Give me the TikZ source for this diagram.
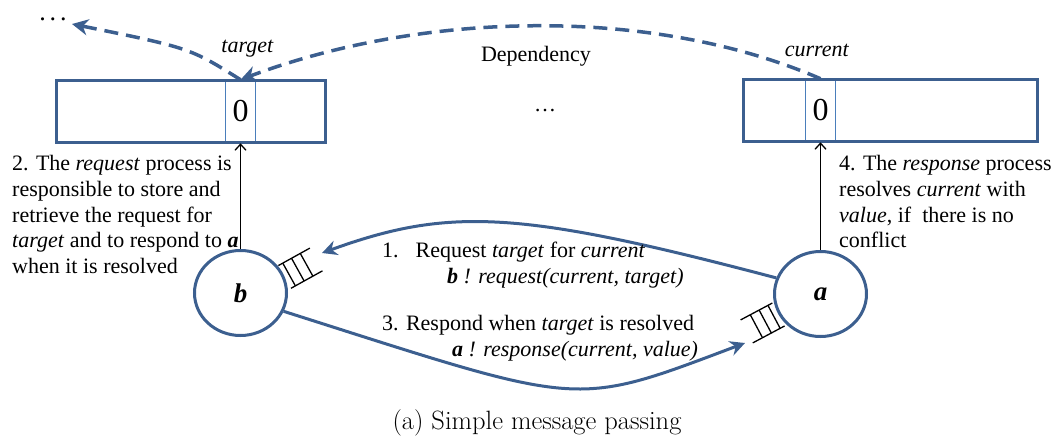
\documentclass[tikz,border=0pt]{standalone}
\usepackage{fontspec}
\setmainfont{Liberation Serif}
\newfontfamily\lmfont{Latin Modern Roman}
\usepackage{tikz}
\usetikzlibrary{arrows.meta,positioning,shapes.geometric}
\usepackage{xcolor}
\definecolor{boxblue}{HTML}{3C5F8F}
\definecolor{cellblue}{HTML}{4A7EBB}

\tikzset{
  txt/.style={font=\fontsize{22}{25.8}\selectfont, inner sep=0pt},
  arraybox/.style={draw=boxblue, line width=3pt, minimum height=62pt, inner sep=0pt},
  slot/.style={draw=cellblue, line width=1.6pt, minimum width=30pt, minimum height=62pt, inner sep=0pt, font=\fontsize{32}{36}\selectfont},
  proc/.style={ellipse, draw=boxblue, line width=3pt, minimum width=92pt, minimum height=85pt, inner sep=0pt, font=\bfseries\itshape\fontsize{27}{30}\selectfont},
  msg/.style={draw=boxblue, line width=3pt, -{Stealth[length=15pt,width=15pt,inset=5pt]}},
  dep/.style={draw=boxblue, line width=3.5pt, dash pattern=on 14pt off 8pt, -{Stealth[length=16pt,width=16pt,inset=5pt]}},
  store/.style={draw=black, line width=1.3pt, -{Straight Barb[length=6pt,width=11pt]}},
  rail/.style={draw=black, line width=1.3pt},
  queue/.pic={
    \draw[rail] (0,-13) -- (36,-13) (0,13) -- (36,13);
    \foreach \pos in {5,15,25}
      \draw[rail] (\pos,-13) -- (\pos,13);
  }
}

\begin{document}
\begin{tikzpicture}[x=1pt,y=-1pt,>=Stealth]
\useasboundingbox (0,0) rectangle (1058,439);
% slots first, the array borders go on top
\node[slot] (tcell) at (240.5,111.5) {\raisebox{-2.5pt}{0}};
\node[slot] (ccell) at (820.5,110.5) {\raisebox{-2.5pt}{0}};
\node[arraybox, minimum width=269pt] (tarr) at (191,111.5) {};
\node[arraybox, minimum width=294pt] (carr) at (890.5,110.5) {};
\node[txt, above=22pt of tcell, xshift=7pt] (tlbl) {\textit{target}};
\node[txt, above=22pt of ccell, xshift=-3.5pt] (clbl) {\textit{current}};
\node[txt] (deplbl) at (536,56) {Dependency};
\node[txt] (gap) at (545,111) {\dots};
\node[font=\fontsize{26}{30}\selectfont, inner sep=0pt, anchor=base] (moredots) at (53,20) {.\hspace{4pt}.\hspace{4pt}.};
\coordinate (prevdep) at (72,24);

% processes
\node[proc] (b) at (240.5,293) {b};
\node[proc] (a) at (820.5,294) {a};
\draw[store] (b.north) -- (tcell.south);
\draw[store] (a.north) -- (ccell.south);
\pic[rotate=29] at (b.20) {queue};
\pic[rotate=208] at (a.206) {queue};

% messages
\coordinate (reqend) at (322,253);
\coordinate (respend) at (745,343);
\draw[msg] (a.160) .. controls (519,210) and (449,207) .. (reqend);
\draw[msg] (b.-23) .. controls (585,407) and (570,409) .. (respend);

% dependency chain
\draw[dep] (ccell.north) .. controls (650,5) and (420,12) .. (tcell.north);
\draw[dep] (tcell.north) .. controls (190,48) .. (prevdep);

% notes
\node[txt, anchor=north west, align=left] (note2) at (12,155) {2. The \textit{request} process is\\ responsible to store and\\ retrieve\ the request for\\ \textit{target} and to respond to \textbf{\textit{a}}\\ when it is resolved};
\node[txt, anchor=north west, align=left] (note4) at (839,155) {4. The \textit{response} process\\ resolves \textit{current} with\\ \textit{value}, if\ \ there is no\\ conflict};
\node[txt, anchor=north west, align=left] (note1) at (382,242) {1.\hspace{17pt}Request \textit{target} for \textit{current}\\ \hspace*{65pt}\textit{\textbf{b} ! request(current, target)}};
\node[txt, anchor=north west, align=left] (note3) at (382,315) {3. Respond when \textit{target} is resolved\\ \hspace*{70pt}\textit{\textbf{a} ! response(current, value)}};
\node[font=\lmfont\fontsize{26.5}{30}\selectfont, inner sep=0pt] (caption) at (537,423) {(a) Simple message passing};
\end{tikzpicture}
\end{document}
